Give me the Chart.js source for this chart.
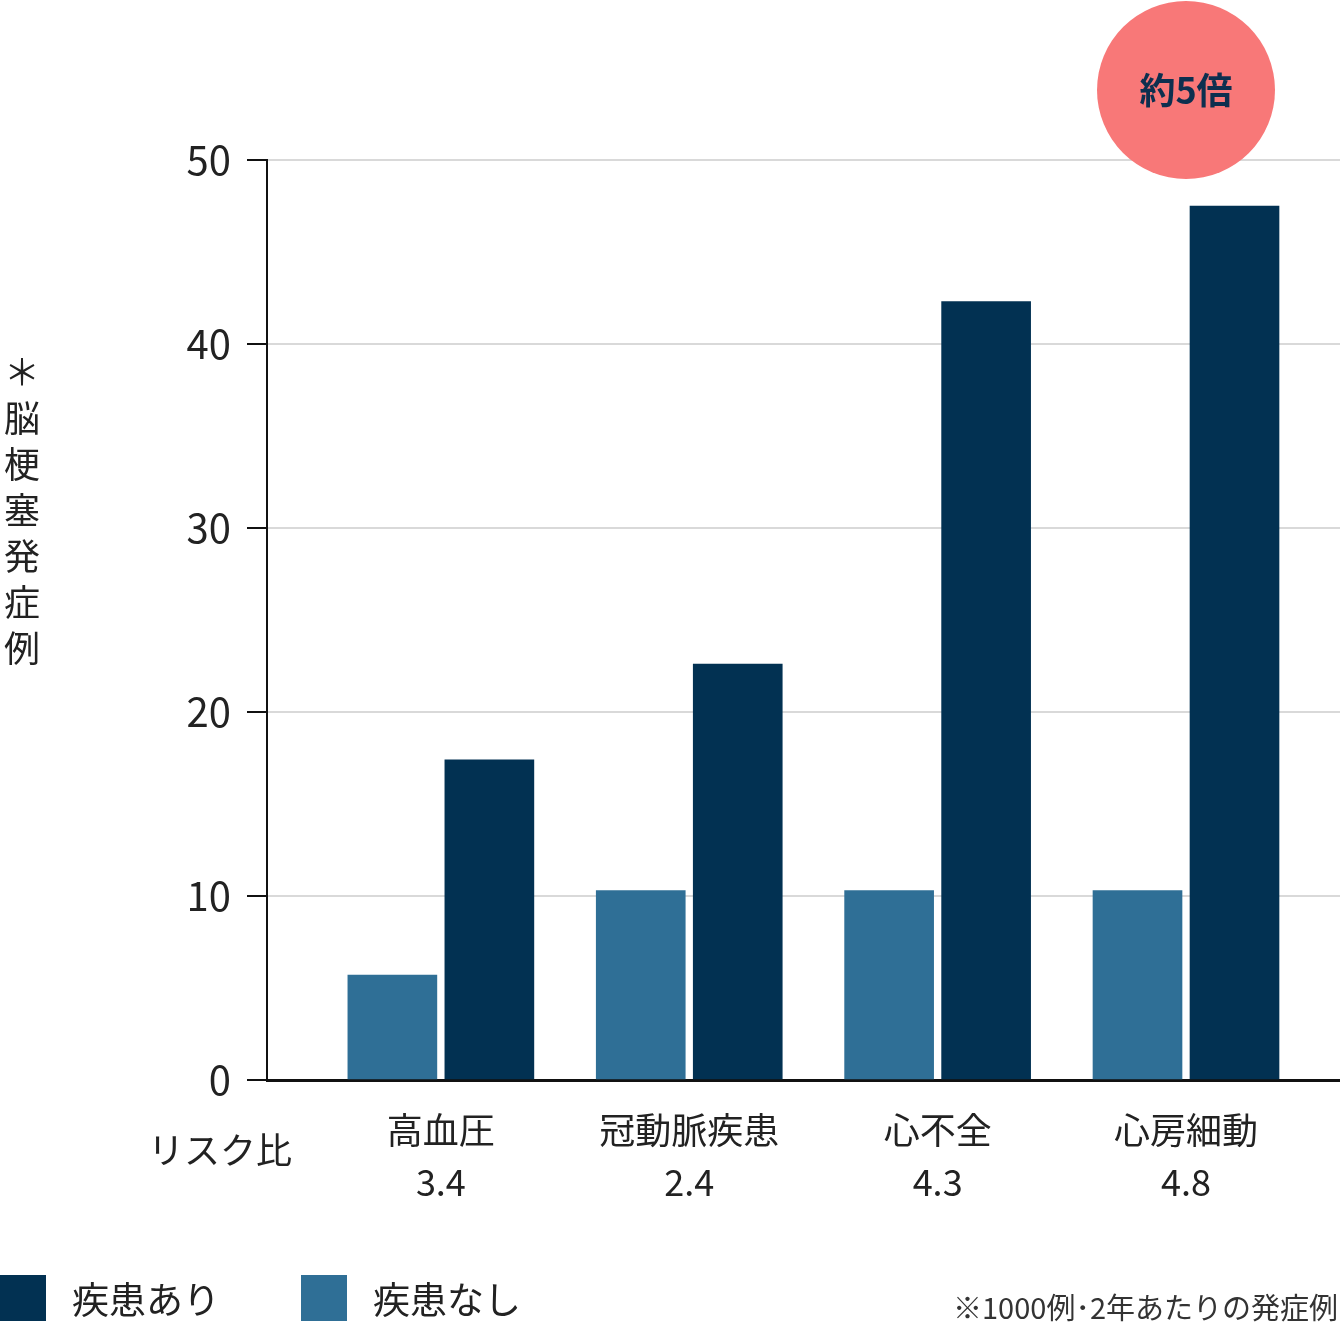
<!DOCTYPE html>
<html><head><meta charset="utf-8">
<script src="https://cdn.jsdelivr.net/npm/chart.js@4"></script>
<style>
body{margin:0;background:#fff;font-family:"Noto Sans CJK JP",sans-serif}
#wrap{position:relative;width:1340px;height:1322px}
.leg{position:absolute;top:1275px;height:46px;display:flex;align-items:center;font-size:37px;color:#222}
.leg span{display:inline-block;width:46px;height:46px;margin-right:26px}
#note{position:absolute;right:2px;top:1285px;font-size:29px;color:#333}
</style></head><body>
<div id="wrap"><canvas id="c" width="1340" height="1322"></canvas>
<div class="leg" style="left:0"><span style="background:#023152"></span>疾患あり</div>
<div class="leg" style="left:301px"><span style="background:#2f6f96"></span>疾患なし</div>
<div id="note">※1000例･2年あたりの発症例</div>
</div>
<script>
const categories = [['高血圧','3.4'],['冠動脈疾患','2.4'],['心不全','4.3'],['心房細動','4.8']];
const withoutDisease = [5.7, 10.3, 10.3, 10.3];
const withDisease = [17.4, 22.6, 42.3, 47.5];
const yTicks = [0,10,20,30,40,50];
const FONT = '"Noto Sans CJK JP", sans-serif';

const extras = {
  id:'extras',
  afterDraw(chart){
    const c = chart.ctx, x = chart.scales.x;
    c.save();
    const cx = x.getPixelForValue(3);
    c.fillStyle = '#f87878';
    c.beginPath(); c.arc(cx, 90, 89, 0, Math.PI*2); c.fill();
    c.fillStyle = '#0d2f4f'; c.font = 'bold 36px '+FONT;
    c.textAlign='center'; c.textBaseline='middle';
    c.fillText('約5倍', cx, 90);
    c.fillStyle = '#222'; c.font = '36px '+FONT;
    c.fillText('リスク比', 220, 1150);
    const t = '＊脳梗塞発症例';
    for (let i=0;i<t.length;i++) c.fillText(t[i], 22, 372 + i*46);
    c.restore();
  }
};

new Chart(document.getElementById('c'), {
  type:'bar',
  data:{ datasets:[
    {label:'疾患なし', data:withoutDisease.map((v,i)=>({x:i,y:v})), backgroundColor:'#2f6f96'},
    {label:'疾患あり', data:withDisease.map((v,i)=>({x:i,y:v})), backgroundColor:'#023152'}
  ]},
  options:{
    responsive:false, animation:false,
    layout:{padding:{top:160,bottom:82,left:0,right:0}},
    datasets:{bar:{barThickness:97, maxBarThickness:89}},
    plugins:{legend:{display:false}, tooltip:{enabled:false}},
    scales:{
      x:{type:'linear', min:-0.7, max:3.62, offset:false,
        afterBuildTicks:s=>{s.ticks=[0,1,2,3].map(v=>({value:v}));},
        afterFit:s=>{s.height=160;},
        grid:{display:false},
        border:{color:'#111',width:3},
        ticks:{padding:16, color:'#222', font:{family:FONT,size:36,lineHeight:1.45}, callback:v=>categories[v]}
      },
      y:{min:0,max:50,
        afterBuildTicks:s=>{s.ticks=yTicks.map(v=>({value:v}));},
        afterFit:s=>{s.width=267;},
        border:{color:'#111',width:2},
        grid:{color:c=>c.tick&&c.tick.value===0?'#111':'#d9d9d9', lineWidth:2, tickColor:'#111', tickLength:20},
        ticks:{padding:16, color:'#222', font:{family:FONT,size:40,weight:400}}
      }
    }
  },
  plugins:[extras]
});
</script></body></html>
